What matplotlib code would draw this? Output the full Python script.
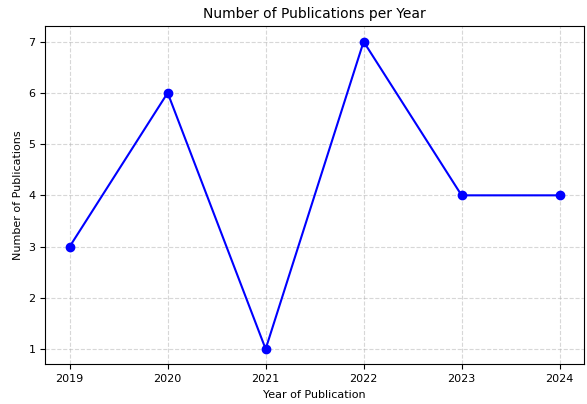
import matplotlib
matplotlib.use('Agg')

import matplotlib.pyplot as plt

# Data
years = [2019, 2020, 2021, 2022, 2023, 2024]
counts = [3, 6, 1, 7, 4, 4]

fig, ax = plt.subplots(figsize=(5.87, 4.04), dpi=100)
fig.subplots_adjust(left=0.077, right=0.995, top=0.935, bottom=0.098)

ax.plot(years, counts, marker='o', color='blue', linestyle='-', markersize=6)
ax.set_title('Number of Publications per Year', fontsize=10)
ax.set_xlabel('Year of Publication', fontsize=8, labelpad=4)
ax.set_ylabel('Number of Publications', fontsize=8)
ax.set_xticks(years)
ax.tick_params(labelsize=8)
ax.grid(True, linestyle='--', alpha=0.5)

fig.savefig('out.png', dpi=100)
